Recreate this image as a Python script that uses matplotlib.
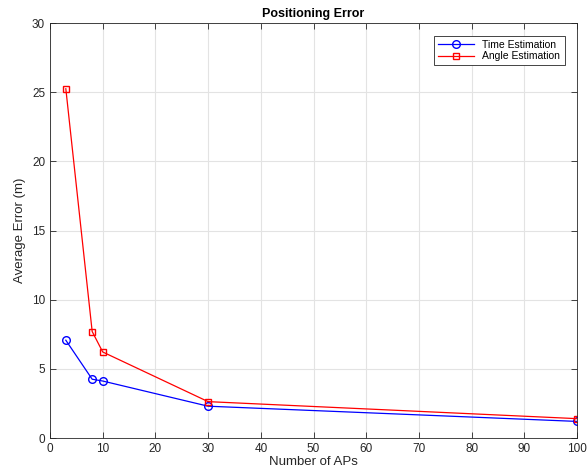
import matplotlib
matplotlib.use("Agg")
import matplotlib.pyplot as plt

# Datos
num_aps = [3, 8, 10, 30, 100]
time_err = [7.07, 4.25, 4.12, 2.3, 1.2]
angle_err = [25.25, 7.7, 6.22, 2.63, 1.4]

plt.rcParams['font.family'] = ['Liberation Sans', 'DejaVu Sans']

fig = plt.figure(figsize=(5.87, 4.76), dpi=100)
ax = fig.add_axes([0.0852, 0.0798, 0.8978, 0.8718])

ax.plot(num_aps, time_err, color='blue', marker='o', markersize=5.5,
        markerfacecolor='none', linewidth=0.9, label='Time Estimation')
ax.plot(num_aps, angle_err, color='red', marker='s', markersize=5,
        markerfacecolor='none', linewidth=0.9, label='Angle Estimation')

ax.set_xlim(0, 100)
ax.set_ylim(0, 30)
ax.set_xticks(range(0, 101, 10))
ax.set_yticks(range(0, 31, 5))
ax.grid(True, color='#e3e3e3', linewidth=0.8)
ax.set_axisbelow(True)
ax.tick_params(direction='in', top=True, right=True, labelsize=8.5,
               length=4, width=0.6, colors='#262626')
for s in ax.spines.values():
    s.set_color('#262626')
    s.set_linewidth(0.6)

ax.set_xlabel('Number of APs', fontsize=9.5, labelpad=1, color='#262626')
ax.set_ylabel('Average Error (m)', fontsize=9.5, labelpad=4, color='#262626')
ax.set_title('Positioning Error', fontsize=9, fontweight='bold', pad=4)

leg = ax.legend(loc='upper right', fontsize=7.5, fancybox=False,
                edgecolor='#262626', framealpha=1, handlelength=3.5,
                borderaxespad=1.2, labelspacing=0.15)
leg.get_frame().set_linewidth(0.6)

fig.savefig('out.png', dpi=100)
